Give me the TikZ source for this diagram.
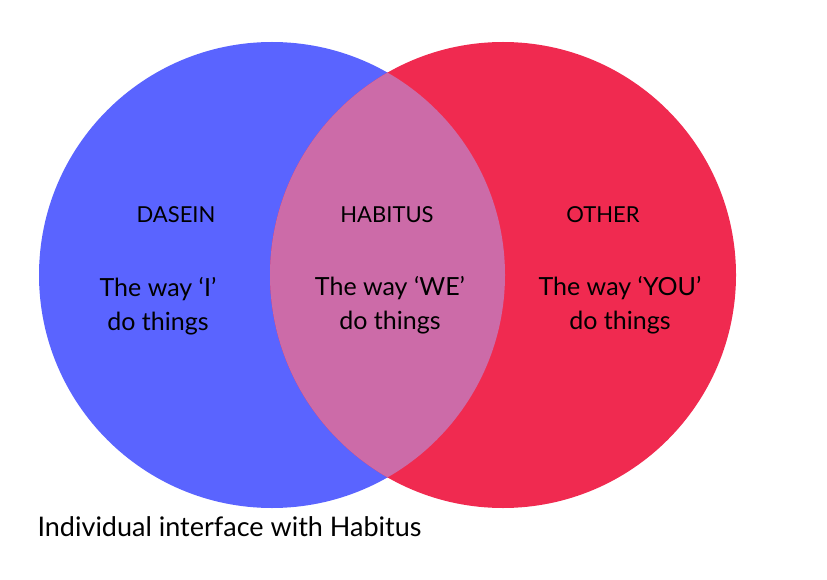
\documentclass[tikz,border=0pt]{standalone}
\usepackage{fontspec}
\setmainfont{Lato}
\definecolor{cblue}{HTML}{5A64FF}
\definecolor{cred}{HTML}{F02A50}
\definecolor{cmix}{HTML}{CC6BA8}
\begin{document}
\begin{tikzpicture}[x=1pt,y=-1pt,
  lbl/.style={font=\fontsize{22}{26}\selectfont},
  txt/.style={font=\fontsize{25}{34}\selectfont,align=center}]
\useasboundingbox (0,0) rectangle (827,580);
\fill[cblue] (272,275) circle (233);
\fill[cred] (503,275) circle (233);
\begin{scope}
\clip (272,275) circle (233);
\fill[cmix] (503,275) circle (233);
\end{scope}
\node[lbl] (dasein) at (176,215) {DASEIN};
\node[lbl] (habitus) at (387,215) {HABITUS};
\node[lbl] (other) at (603,215) {OTHER};
\node[txt] (ti) at (158,306) {The way ‘I’\\do things};
\node[txt] (tw) at (390,305) {The way ‘WE’\\do things};
\node[txt] (ty) at (620,305) {The way ‘YOU’\\do things};
\node[font=\fontsize{27}{32}\selectfont,anchor=west] (title) at (34,527) {Individual interface with Habitus};
\end{tikzpicture}
\end{document}
